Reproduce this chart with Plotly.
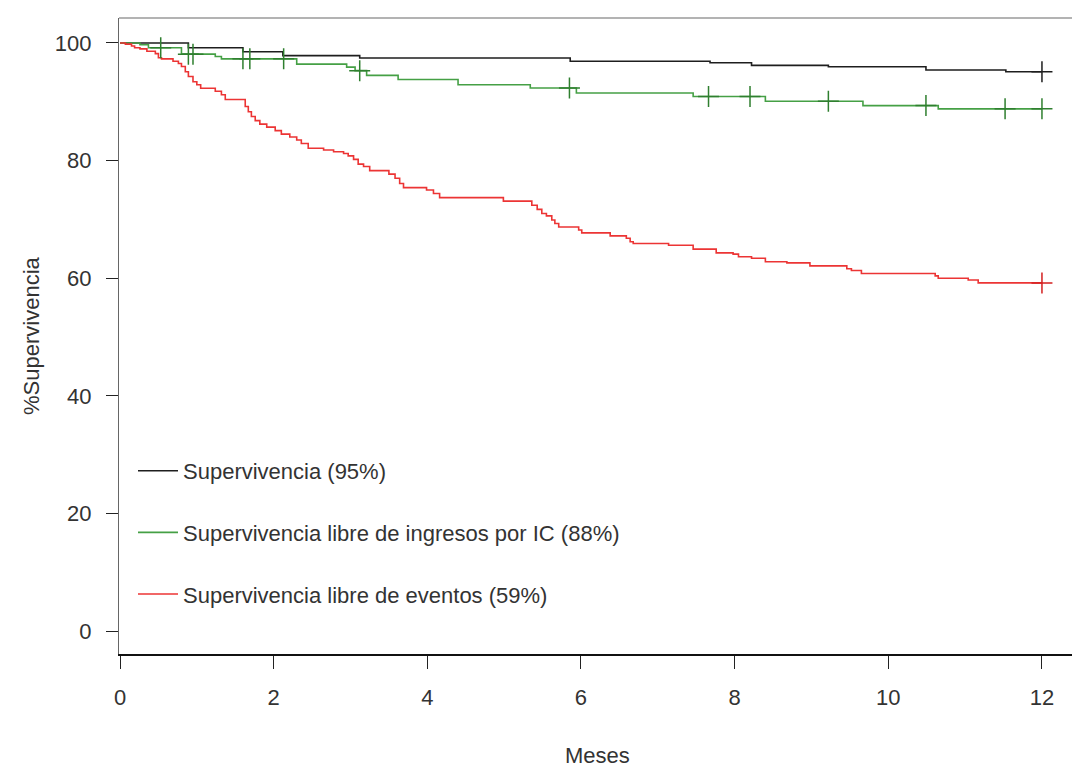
import numpy as np
import plotly.graph_objects as go

# ---------------- data ----------------
series_names = [
    "Supervivencia (95%)",
    "Supervivencia libre de ingresos por IC (88%)",
    "Supervivencia libre de eventos (59%)",
]

# Overall survival (black)
months_surv = [0, 0.89, 1.60, 2.12, 3.12, 5.86, 7.68, 8.22, 9.22, 10.49, 11.53, 12]
pct_surv = [100, 99.2, 98.5, 97.85, 97.45, 96.9, 96.65, 96.2, 95.95, 95.4, 95.1, 95.1]
censor_surv = [12]

# Free of HF admissions (green)
months_ic = [0, 0.26, 0.37, 0.80, 1.24, 1.32, 2.30, 2.95, 3.06, 3.21, 3.62, 4.40,
             5.34, 5.94, 7.46, 8.40, 9.67, 10.65, 12]
pct_ic = [100, 99.7, 99.2, 98.1, 97.7, 97.3, 96.4, 95.9, 95.3, 94.5, 93.8, 92.9,
          92.35, 91.5, 90.9, 90.1, 89.35, 88.8, 88.8]
censor_ic = [0.53, 0.89, 0.95, 1.60, 1.69, 2.13, 3.12, 5.85, 7.66, 8.20, 9.22,
             10.49, 11.52, 12]

# Event-free survival (red)
months_ev = [0, 0.07, 0.15, 0.19, 0.26, 0.35, 0.46, 0.50, 0.54, 0.69, 0.76, 0.80,
             0.85, 0.89, 0.95, 1.00, 1.05, 1.24, 1.32, 1.37, 1.63, 1.67, 1.71,
             1.76, 1.82, 1.91, 2.02, 2.10, 2.21, 2.30, 2.36, 2.45, 2.65, 2.78,
             2.91, 2.97, 3.04, 3.10, 3.17, 3.25, 3.50, 3.58, 3.64, 3.69, 3.99,
             4.08, 4.16, 4.99, 5.36, 5.43, 5.49, 5.55, 5.62, 5.66, 5.71, 5.97,
             6.01, 6.38, 6.59, 6.64, 6.68, 7.14, 7.46, 7.76, 7.98, 8.05, 8.22,
             8.40, 8.68, 8.98, 9.46, 9.52, 9.65, 10.61, 10.65, 11.04, 11.17, 12]
pct_ev = [100, 99.8, 99.5, 99.2, 99.0, 98.6, 98.2, 97.5, 97.3, 96.9, 96.5, 96.0,
          95.1, 94.3, 93.4, 92.9, 92.3, 91.8, 91.2, 90.4, 89.2, 88.3, 87.5,
          86.8, 86.2, 85.7, 85.1, 84.5, 84.0, 83.5, 82.9, 82.1, 81.8, 81.5,
          81.2, 80.8, 80.2, 79.4, 79.0, 78.3, 77.7, 77.0, 76.1, 75.4, 75.0,
          74.4, 73.7, 73.1, 72.4, 71.7, 71.0, 70.6, 69.9, 69.3, 68.7, 68.2,
          67.7, 67.2, 66.8, 66.2, 65.9, 65.6, 64.95, 64.3, 64.1, 63.65, 63.4,
          62.8, 62.6, 62.1, 61.6, 61.3, 60.8, 60.4, 60.0, 59.7, 59.2, 59.2]
censor_ev = [12]

x_ticks = [0, 2, 4, 6, 8, 10, 12]
y_ticks = [0, 20, 40, 60, 80, 100]

line_colors = ["#1e1e1e", "#45a045", "#ec3434"]
mark_colors = ["#1e1e1e", "#2f7f2f", "#d42020"]

FONT = "Liberation Sans, Arial, sans-serif"
TXT = "#333333"
FS = 22


def step_value(times, values, t):
    """Value of a right-continuous step function at t."""
    idx = np.searchsorted(np.asarray(times), t, side="right") - 1
    return float(np.asarray(values)[idx])


fig = go.Figure()

curves = [
    (months_surv, pct_surv, censor_surv),
    (months_ic, pct_ic, censor_ic),
    (months_ev, pct_ev, censor_ev),
]

for i, (t, s, c) in enumerate(curves):
    fig.add_trace(go.Scatter(
        x=t, y=s, mode="lines", line=dict(shape="hv", color=line_colors[i], width=1.6),
        name=series_names[i], legendgroup=f"g{i}", showlegend=True,
        hoverinfo="skip",
    ))
for i, (t, s, c) in enumerate(curves):
    fig.add_trace(go.Scatter(
        x=c, y=[step_value(t, s, ct) for ct in c], mode="markers",
        marker=dict(symbol="cross-thin", size=15,
                    line=dict(color=mark_colors[i], width=1.5)),
        legendgroup=f"g{i}", showlegend=False, hoverinfo="skip",
    ))

# plot area geometry (px)
W, H = 1072, 767
L, R, T, B = 119, 0, 18, 113
plot_w = W - L - R
plot_h = H - T - B

fig.update_layout(
    width=W, height=H,
    margin=dict(l=L, r=R, t=T, b=B, pad=0),
    paper_bgcolor="white", plot_bgcolor="white",
    font=dict(family=FONT, size=FS, color=TXT),
    showlegend=True,
    legend=dict(
        x=(133 - L) / plot_w, y=(767 - 113 - 450) / plot_h, xref="paper", yref="paper",
        xanchor="left", yanchor="top",
        bgcolor="rgba(0,0,0,0)", borderwidth=0,
        font=dict(family=FONT, size=FS, color=TXT),
        tracegroupgap=30, traceorder="grouped", itemwidth=40,
    ),
)

fig.update_xaxes(
    range=[-0.013, 12.391], tickmode="array", tickvals=x_ticks,
    ticktext=[str(v) for v in x_ticks],
    showgrid=False, zeroline=False,
    showline=True, linecolor="#111111", linewidth=1.5,
    ticks="outside", ticklen=13, tickwidth=1.3, tickcolor="#222222",
    ticklabelstandoff=10,
    tickfont=dict(family=FONT, size=FS, color=TXT),
)
fig.update_yaxes(
    range=[-3.91, 104.25], tickmode="array", tickvals=y_ticks,
    ticktext=[str(v) for v in y_ticks],
    showgrid=False, zeroline=False,
    showline=True, linecolor="#666666", linewidth=1.3,
    ticks="outside", ticklen=12, tickwidth=1.3, tickcolor="#222222",
    ticklabelstandoff=10,
    tickfont=dict(family=FONT, size=FS, color=TXT),
)

# top frame line
fig.add_shape(type="line", xref="paper", yref="paper", x0=0, x1=1, y0=1, y1=1,
              line=dict(color="#9a9a9a", width=1.3))

# axis titles
fig.add_annotation(text="%Supervivencia", xref="paper", yref="paper",
                   x=0, y=0.5, xanchor="center", yanchor="middle",
                   xshift=-(L - 31), textangle=-90, showarrow=False,
                   font=dict(family=FONT, size=FS, color=TXT))
fig.add_annotation(text="Meses", xref="paper", yref="paper",
                   x=(597 - L) / plot_w, y=0, xanchor="center", yanchor="middle",
                   yshift=-(755 - (H - B)), showarrow=False,
                   font=dict(family=FONT, size=FS, color=TXT))

fig.write_html("out.html")
